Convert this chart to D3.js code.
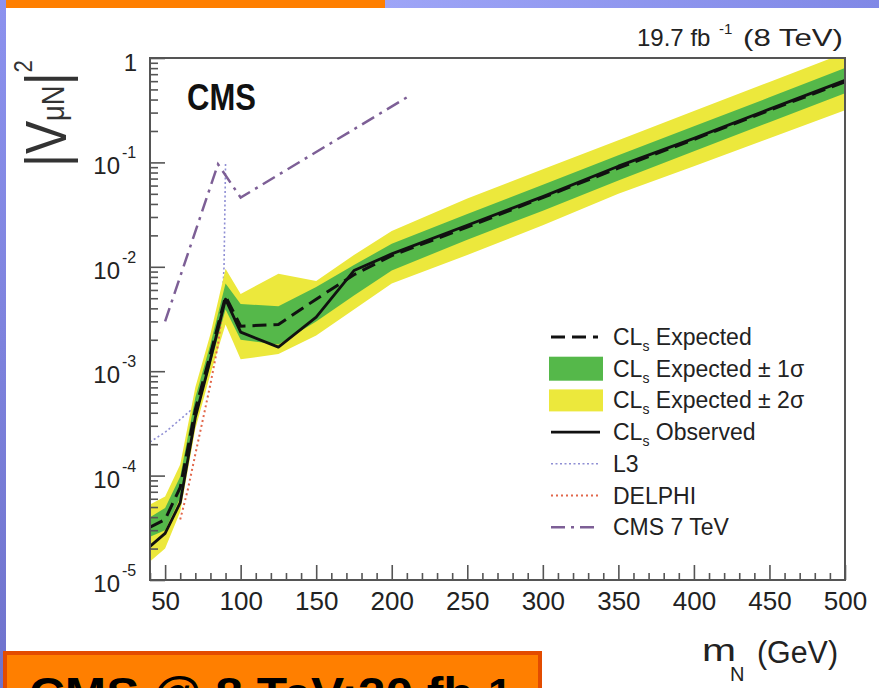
<!DOCTYPE html>
<html><head><meta charset="utf-8">
<script src="https://cdn.jsdelivr.net/npm/d3@7"></script>
<style>
body{margin:0;background:#fff;}
svg{display:block;font-family:Arial,"Liberation Sans",Helvetica,sans-serif;}
</style>
</head><body>
<svg id="c" width="879" height="688"></svg>
<script>
// ---------------- data ----------------
const masses      = [40, 50, 60, 70, 80, 90, 100, 125, 150, 175, 200, 250, 300, 350, 400, 450, 500];
const expected    = [3.2e-5, 3.8e-5, 7.7e-5, 4.3e-4, 1.46e-3, 5.2e-3, 2.7e-3, 2.8e-3, 4.9e-3, 8.4e-3, 1.28e-2, 2.4e-2, 4.6e-2, 8.8e-2, 0.166, 0.316, 0.59];
const sigma1Low   = [2.6e-5, 3.0e-5, 6.1e-5, 3.45e-4, 1.17e-3, 3.9e-3, 2.0e-3, 1.8e-3, 3.0e-3, 5.3e-3, 9.2e-3, 1.82e-2, 3.45e-2, 6.7e-2, 0.128, 0.243, 0.46];
const sigma1High  = [4.0e-5, 4.9e-5, 9.8e-5, 5.6e-4, 1.82e-3, 6.9e-3, 4.4e-3, 4.2e-3, 6.4e-3, 1.04e-2, 1.66e-2, 3.2e-2, 6.1e-2, 0.117, 0.222, 0.42, 0.80];
const sigma2Low   = [1.5e-5, 2.0e-5, 4.5e-5, 2.8e-4, 9.4e-4, 2.8e-3, 1.3e-3, 1.46e-3, 2.2e-3, 3.9e-3, 6.9e-3, 1.3e-2, 2.5e-2, 5.0e-2, 9.2e-2, 0.170, 0.316];
const sigma2High  = [5.3e-5, 6.3e-5, 1.28e-4, 7.0e-4, 2.27e-3, 9.6e-3, 5.5e-3, 8.6e-3, 7.3e-3, 1.3e-2, 2.2e-2, 4.5e-2, 8.6e-2, 0.163, 0.31, 0.59, 1.12];
const observed    = [2.1e-5, 2.8e-5, 5.5e-5, 3.6e-4, 1.30e-3, 4.9e-3, 2.37e-3, 1.7e-3, 3.3e-3, 9.2e-3, 1.33e-2, 2.5e-2, 4.7e-2, 9.2e-2, 0.170, 0.324, 0.61];

const l3Masses    = [40, 50, 60, 70, 80, 88, 89, 90];
const l3Values    = [2.1e-4, 2.6e-4, 3.45e-4, 4.6e-4, 1.5e-3, 5.0e-3, 1.0e-2, 9.8e-2];

const delphiMasses = [60, 65, 70, 75, 80, 85, 88];
const delphiValues = [3.8e-5, 7.3e-5, 1.6e-4, 3.45e-4, 7.5e-4, 1.8e-3, 3.9e-3];

const cms7Masses  = [50, 85, 100, 210];
const cms7Values  = [3.0e-3, 0.096, 4.6e-2, 0.42];

const xDomain     = [40, 500];
const yDomain     = [1e-5, 1];
const xMajorTicks = [50, 100, 150, 200, 250, 300, 350, 400, 450, 500];
const yDecades    = [1e-5, 1e-4, 1e-3, 1e-2, 1e-1, 1];
const yExponents  = ["-5", "-4", "-3", "-2", "-1", ""];
const legendLabels = ["Expected", "Expected \u00B1 1\u03C3", "Expected \u00B1 2\u03C3", "Observed", "L3", "DELPHI", "CMS 7 TeV"];

// ---------------- drawing ----------------
const W = 879, H = 688;
const svg = d3.select("#c");
const defs = svg.append("defs");

const gTop = defs.append("linearGradient").attr("id","gTop").attr("x1","0").attr("x2","1").attr("y1","0").attr("y2","0");
gTop.append("stop").attr("offset","0").attr("stop-color","#9ea5f7");
gTop.append("stop").attr("offset","1").attr("stop-color","#8088e6");
const gLeft = defs.append("linearGradient").attr("id","gLeft").attr("x1","0").attr("x2","0").attr("y1","0").attr("y2","1");
gLeft.append("stop").attr("offset","0").attr("stop-color","#8c92ee");
gLeft.append("stop").attr("offset","1").attr("stop-color","#6e72cc");

svg.append("rect").attr("width",W).attr("height",H).attr("fill","#fff");
svg.append("rect").attr("x",385).attr("y",0).attr("width",W-385).attr("height",8).attr("fill","url(#gTop)");
svg.append("rect").attr("x",6).attr("y",0).attr("width",379).attr("height",8).attr("fill","#ff7f00");
svg.append("rect").attr("x",0).attr("y",0).attr("width",6).attr("height",H).attr("fill","url(#gLeft)");

const x = d3.scaleLinear().domain(xDomain).range([150, 845]);
const y = d3.scaleLog().domain(yDomain).range([580, 58]);

defs.append("clipPath").attr("id","plotClip").append("rect")
  .attr("x",150).attr("y",58).attr("width",695).attr("height",522);

const plot = svg.append("g").attr("clip-path","url(#plotClip)");

const idx = masses.map((m,i)=>i);
const area = (lo,hi) => d3.area().x(i=>x(masses[i])).y0(i=>y(lo[i])).y1(i=>y(hi[i]));
const lineOf = (ms) => d3.line().x((d,i)=>x(ms[i])).y(d=>y(d));

const YELLOW = "#ece83c", GREEN = "#55b84a";

// L3 (under the bands)
plot.append("path").attr("d", lineOf(l3Masses)(l3Values))
  .attr("fill","none").attr("stroke","#8f8fd4").attr("stroke-width",1.6).attr("stroke-dasharray","2,2.5");

plot.append("path").attr("d", area(sigma2Low,sigma2High)(idx)).attr("fill",YELLOW);
plot.append("path").attr("d", area(sigma1Low,sigma1High)(idx)).attr("fill",GREEN);

plot.append("path").attr("d", lineOf(delphiMasses)(delphiValues))
  .attr("fill","none").attr("stroke","#e2674a").attr("stroke-width",2).attr("stroke-dasharray","2,3");

plot.append("path").attr("d", lineOf(cms7Masses)(cms7Values))
  .attr("fill","none").attr("stroke","#7d5f96").attr("stroke-width",2.5).attr("stroke-dasharray","14,6,3,6");

plot.append("path").attr("d", lineOf(masses)(expected))
  .attr("fill","none").attr("stroke","#111").attr("stroke-width",3).attr("stroke-dasharray","14,7");

plot.append("path").attr("d", lineOf(masses)(observed))
  .attr("fill","none").attr("stroke","#111").attr("stroke-width",2.8).attr("stroke-linejoin","round");

// frame
svg.append("rect").attr("x",150).attr("y",58).attr("width",695).attr("height",522)
  .attr("fill","none").attr("stroke","#555").attr("stroke-width",2);

// x axis
const TXT = "#222";
const gx = svg.append("g").attr("transform","translate(0,580)");
gx.call(d3.axisBottom(x).tickValues(xMajorTicks).tickSize(-15).tickPadding(12).tickFormat(d3.format("d")));
const xMinor = d3.range(40, 501, 10).filter(v => !xMajorTicks.includes(v));
const gx2 = svg.append("g").attr("transform","translate(0,580)");
gx2.call(d3.axisBottom(x).tickValues(xMinor).tickSize(-7).tickFormat(""));
[gx,gx2].forEach(g=>{
  g.select(".domain").remove();
  g.selectAll("line").attr("stroke","#555").attr("stroke-width",1.6);
});
gx.selectAll("text").attr("font-size",26).attr("fill",TXT).attr("font-family","Arial, 'Liberation Sans', sans-serif");

// y axis
const gy = svg.append("g").attr("transform","translate(150,0)");
gy.call(d3.axisLeft(y).tickValues(yDecades).tickSize(-15).tickFormat(""));
const yMinor = [];
yDecades.slice(0,-1).forEach(d => { for (let k=2;k<=9;k++) yMinor.push(d*k); });
const gy2 = svg.append("g").attr("transform","translate(150,0)");
gy2.call(d3.axisLeft(y).tickValues(yMinor).tickSize(-8).tickFormat(""));
[gy,gy2].forEach(g=>{
  g.select(".domain").remove();
  g.selectAll("line").attr("stroke","#555").attr("stroke-width",1.6);
});
yDecades.forEach((d,i)=>{
  if (yExponents[i] === "") {
    svg.append("text").attr("x",137).attr("y",y(d)+13).attr("text-anchor","end")
      .attr("font-size",24).attr("fill",TXT).text("1");
  } else {
    svg.append("text").attr("x",120).attr("y",y(d)+12).attr("text-anchor","end")
      .attr("font-size",24).attr("fill",TXT).text("10");
    svg.append("text").attr("x",122).attr("y",y(d)-4).attr("text-anchor","start")
      .attr("font-size",16).attr("fill",TXT).text(yExponents[i]);
  }
});

// y title (rotated)
const yt = svg.append("text").attr("transform","translate(66,167) rotate(-90)")
  .attr("font-size",58).attr("fill","#333").attr("textLength",107).attr("lengthAdjust","spacingAndGlyphs");
yt.append("tspan").text("|V");
yt.append("tspan").attr("font-size",32).attr("dy",-2).text("\u03BCN");
yt.append("tspan").attr("dy",2).text("|");
yt.append("tspan").attr("font-size",26).attr("dy",-34).text("2");

// x title
svg.append("text").attr("x",702).attr("y",661).attr("font-size",31).attr("fill",TXT)
  .attr("textLength",34).attr("lengthAdjust","spacingAndGlyphs").text("m");
svg.append("text").attr("x",730).attr("y",681).attr("font-size",20).attr("fill",TXT).text("N");
svg.append("text").attr("x",757).attr("y",663).attr("font-size",31).attr("fill",TXT)
  .attr("textLength",81).attr("lengthAdjust","spacingAndGlyphs").text("(GeV)");

// CMS label
svg.append("text").attr("transform","translate(187,110) scale(1,1.18)")
  .attr("font-size",31).attr("font-weight","bold").attr("fill","#111").text("CMS");

// lumi label
svg.append("text").attr("x",637).attr("y",46).attr("font-size",24).attr("fill",TXT).text("19.7 fb");
svg.append("text").attr("x",719).attr("y",34).attr("font-size",15).attr("fill",TXT).text("-1");
svg.append("text").attr("x",743).attr("y",46).attr("font-size",24).attr("fill",TXT)
  .attr("textLength",100).attr("lengthAdjust","spacingAndGlyphs").text("(8 TeV)");

// legend
const legY0 = 337, legStep = 31.7;
legendLabels.forEach((lab,i)=>{
  const cy = legY0 + i*legStep;
  const g = svg.append("g");
  if (i===0) g.append("line").attr("x1",551).attr("x2",598).attr("y1",cy).attr("y2",cy)
      .attr("stroke","#111").attr("stroke-width",3).attr("stroke-dasharray","14,7");
  if (i===1) g.append("rect").attr("x",549).attr("y",cy-12).attr("width",54).attr("height",24).attr("fill",GREEN);
  if (i===2) g.append("rect").attr("x",549).attr("y",cy-11).attr("width",54).attr("height",22).attr("fill",YELLOW);
  if (i===3) g.append("line").attr("x1",551).attr("x2",600).attr("y1",cy).attr("y2",cy)
      .attr("stroke","#111").attr("stroke-width",2.8);
  if (i===4) g.append("line").attr("x1",551).attr("x2",600).attr("y1",cy).attr("y2",cy)
      .attr("stroke","#8f8fd4").attr("stroke-width",1.6).attr("stroke-dasharray","2,2.5");
  if (i===5) g.append("line").attr("x1",551).attr("x2",600).attr("y1",cy).attr("y2",cy)
      .attr("stroke","#e2674a").attr("stroke-width",2).attr("stroke-dasharray","2,3");
  if (i===6) g.append("line").attr("x1",551).attr("x2",600).attr("y1",cy).attr("y2",cy)
      .attr("stroke","#7d5f96").attr("stroke-width",2.5).attr("stroke-dasharray","14,6,3,6");
  const t = g.append("text").attr("x",613).attr("y",cy+8).attr("font-size",23).attr("fill",TXT);
  if (i<4) {
    t.append("tspan").text("CL");
    t.append("tspan").attr("font-size",14).attr("dy",6).text("s");
    t.append("tspan").attr("dy",-6).text(" " + lab);
  } else {
    t.text(lab);
  }
});

// bottom orange banner (text is cut by the page edge, as in the reference)
svg.append("rect").attr("x",5).attr("y",653).attr("width",535).attr("height",45)
  .attr("fill","#ff7f00").attr("stroke","#e34c00").attr("stroke-width",4);
const bt = svg.append("text").attr("x",29).attr("y",710).attr("font-size",46).attr("font-weight","bold")
  .attr("fill","#000").attr("textLength",483).attr("lengthAdjust","spacingAndGlyphs");
bt.append("tspan").text("CMS @ 8 TeV;20 fb");
bt.append("tspan").attr("font-size",40).attr("dy",-3).text("-1");
</script>
</body></html>
